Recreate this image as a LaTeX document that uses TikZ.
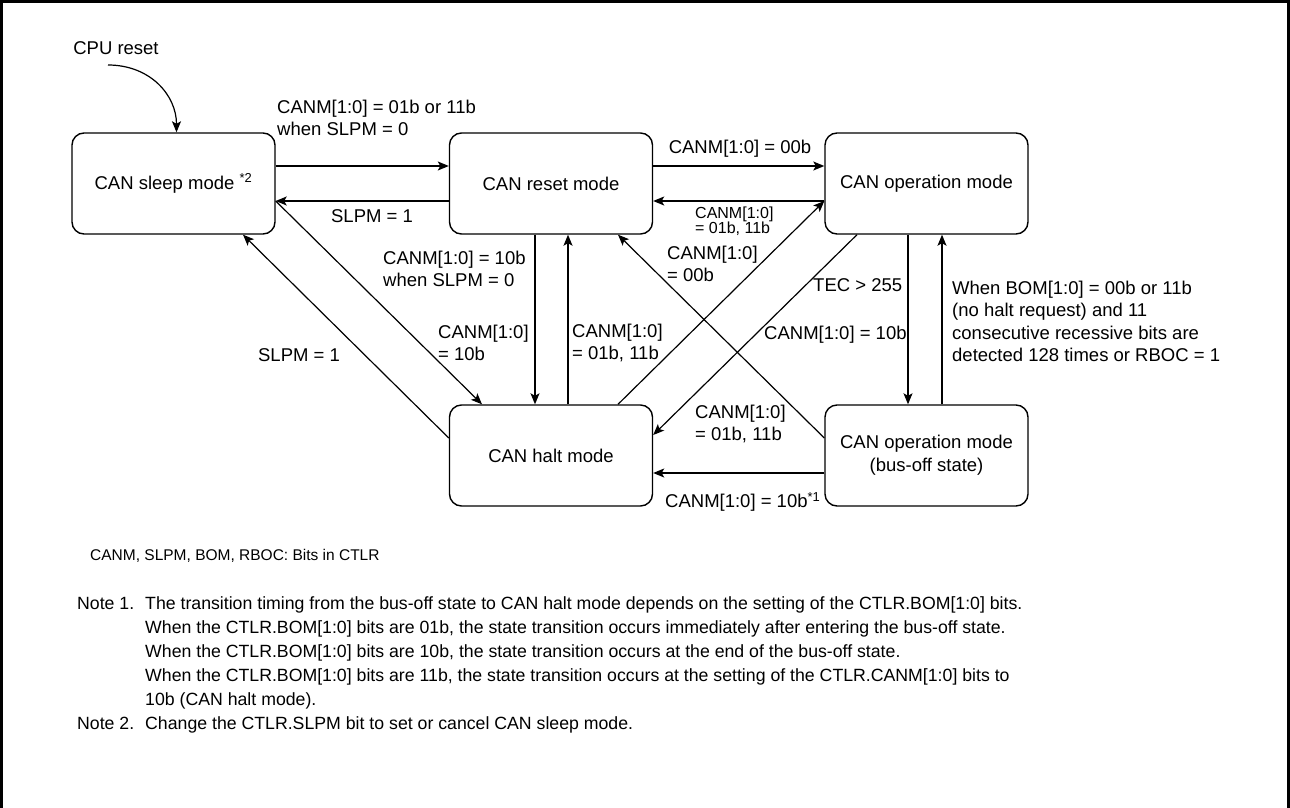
\documentclass[tikz,border=0pt]{standalone}
\usepackage{fontspec}
\setmainfont{Liberation Sans}
\usetikzlibrary{arrows.meta,calc}
\begin{document}
\begin{tikzpicture}[x=1pt,y=-1pt,
  state/.style={draw, line width=1.4pt, rounded corners=12pt, minimum width=203pt, minimum height=101pt, inner sep=0pt, align=center, font=\fontsize{18.5}{23}\selectfont},
  arr/.style={line width=1.2pt, -{Stealth[length=11pt,width=9pt,inset=2.5pt]}},
  lbl/.style={inner sep=0pt, align=left, font=\fontsize{18.5}{22}\selectfont},
  slbl/.style={inner sep=0pt, align=left, font=\fontsize{16}{15}\selectfont},
  note/.style={inner sep=0pt, anchor=base west, font=\fontsize{17.7}{24}\selectfont}]
\useasboundingbox (0,0) rectangle (1290,808);
% frame
\draw[line width=3pt] (1.5,808) -- (1.5,1.5) -- (1288.5,1.5) -- (1288.5,808);
% states
\node[state] (sleep) at (173.5,183.5) {CAN sleep mode \textsuperscript{*2}};
\node[state] (reset) at (551,183.5) {CAN reset mode};
\node[state] (op) at (926.5,183.5) {CAN operation mode};
\node[state] (halt) at (551,455.5) {CAN halt mode};
\node[state] (busoff) at (926.5,455.5) {CAN operation mode\\(bus-off state)};
% CPU reset
\node[lbl] (cpu) at (116,48) {CPU reset};
\coordinate (cpustart) at (108,65);
\draw[arr] (cpustart) .. controls (150,65) and (176.5,95) .. ($(sleep.north)+(3,0)$);
% horizontal transitions top
\draw[arr] ($(sleep.east)+(0,-17.5)$) -- ($(reset.west)+(0,-17.5)$);
\draw[arr] ($(reset.west)+(0,17.5)$) -- ($(sleep.east)+(0,17.5)$);
\draw[arr] ($(reset.east)+(0,-17.5)$) -- ($(op.west)+(0,-17.5)$);
\draw[arr] ($(op.west)+(0,17.5)$) -- ($(reset.east)+(0,17.5)$);
% verticals
\draw[arr] ($(reset.south)+(-16,0)$) -- ($(halt.north)+(-16,0)$);
\draw[arr] ($(halt.north)+(17,0)$) -- ($(reset.south)+(17,0)$);
\draw[arr] ($(op.south)+(-18.5,0)$) -- ($(busoff.north)+(-18.5,0)$);
\draw[arr] ($(busoff.north)+(15.5,0)$) -- ($(op.south)+(15.5,0)$);
% bottom horizontal
\draw[arr] ($(busoff.west)+(0,17.5)$) -- ($(halt.east)+(0,17.5)$);
% diagonals
\draw[arr] ($(busoff.west)+(0,-17.5)$) -- ($(reset.south)+(67,0)$);
\draw[arr] ($(halt.north)+(67,0)$) -- ($(op.west)+(0,17.5)$);
\draw[arr] ($(op.south)+(-69.5,0)$) -- ($(halt.east)+(0,-20.5)$);
\draw[arr] ($(sleep.east)+(0,17.5)$) -- ($(halt.north)+(-69,0)$);
\draw[arr] ($(halt.west)+(0,-17.5)$) -- ($(sleep.south)+(69.5,0)$);
% labels
\node[lbl, anchor=west] (l1) at (277,118) {CANM[1:0] = 01b or 11b\\when SLPM = 0};
\node[lbl] (l2) at (372,216) {SLPM = 1};
\node[lbl] (l3) at (740,149) {CANM[1:0] = 00b};
\node[slbl, anchor=west] (l4) at (695,221) {CANM[1:0]\\= 01b, 11b};
\node[lbl, anchor=west] (l5) at (383,269) {CANM[1:0] = 10b\\when SLPM = 0};
\node[lbl, anchor=west] (l6) at (438,343) {CANM[1:0]\\= 10b};
\node[lbl, anchor=west] (l7) at (572,343) {CANM[1:0]\\= 01b, 11b};
\node[lbl] (l8) at (299,355) {SLPM = 1};
\node[lbl, anchor=west] (l9) at (667,264) {CANM[1:0]\\= 00b};
\node[lbl, anchor=west] (l10) at (813,285) {TEC > 255};
\node[lbl, anchor=west] (l11) at (764,335) {CANM[1:0] = 10b};
\node[lbl, anchor=west, font=\fontsize{18.5}{22.3}\selectfont] (l12) at (952,321.5) {When BOM[1:0] = 00b or 11b\\(no halt request) and 11\\consecutive recessive bits are\\detected 128 times or RBOC = 1};
\node[lbl, anchor=west] (l13) at (695,424) {CANM[1:0]\\= 01b, 11b};
\node[lbl, anchor=west] (l14) at (665,502) {CANM[1:0] = 10b\textsuperscript{*1}};
% notes
\node[inner sep=0pt, anchor=base west, font=\fontsize{15.5}{18}\selectfont] (cap) at (90,560.5) {CANM, SLPM, BOM, RBOC: Bits in CTLR};
\node[note] (n1) at (77,609) {Note 1.};
\node[note] (n1a) at (145,609) {The transition timing from the bus-off state to CAN halt mode depends on the setting of the CTLR.BOM[1:0] bits.};
\node[note] (n1b) at (145,633) {When the CTLR.BOM[1:0] bits are 01b, the state transition occurs immediately after entering the bus-off state.};
\node[note] (n1c) at (145,657) {When the CTLR.BOM[1:0] bits are 10b, the state transition occurs at the end of the bus-off state.};
\node[note] (n1d) at (145,681) {When the CTLR.BOM[1:0] bits are 11b, the state transition occurs at the setting of the CTLR.CANM[1:0] bits to};
\node[note] (n1e) at (145,705) {10b (CAN halt mode).};
\node[note] (n2) at (77,729) {Note 2.};
\node[note] (n2a) at (145,729) {Change the CTLR.SLPM bit to set or cancel CAN sleep mode.};
\end{tikzpicture}
\end{document}
